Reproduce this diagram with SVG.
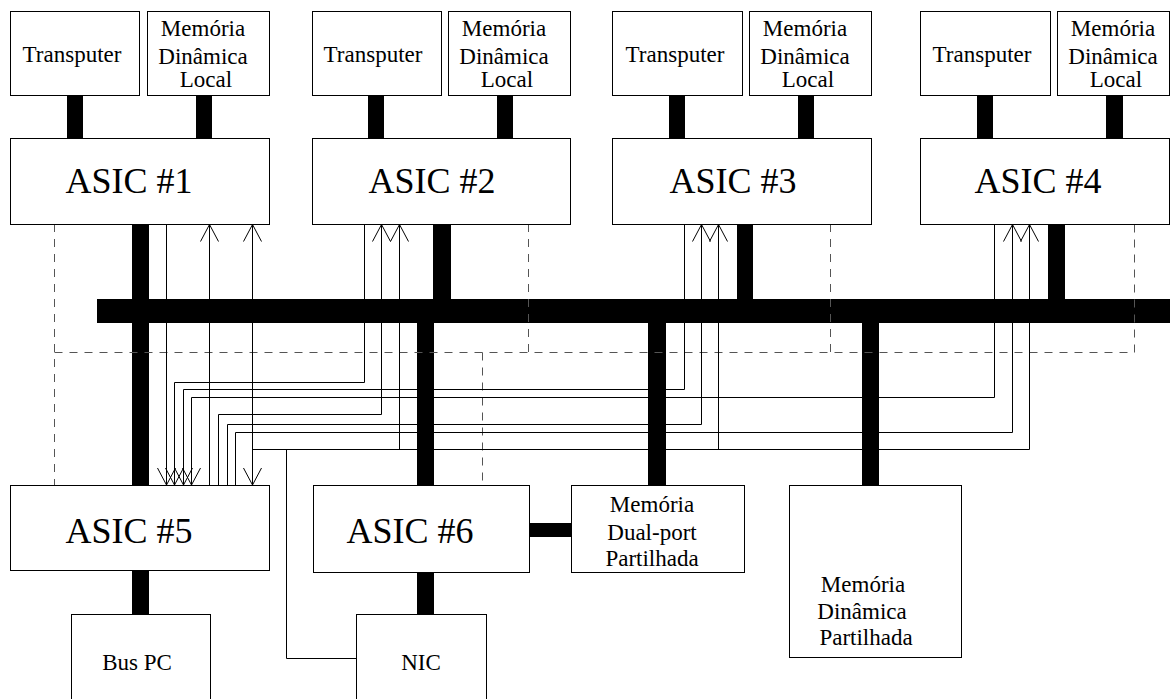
<svg xmlns="http://www.w3.org/2000/svg" width="1170" height="699" viewBox="0 0 1170 699">
  <style>
    .box { fill: #fff; stroke: #000; stroke-width: 1; }
    .bar { fill: #000; }
    .wire { fill: none; stroke: #000; stroke-width: 1; }
    .ctl { fill: none; stroke: #555; stroke-width: 1; stroke-dasharray: 8 7; }
    text { font-family: "Liberation Serif", "Times New Roman", serif; fill: #000; text-anchor: middle; }
    .sm { font-size: 23px; }
    .big { font-size: 36px; }
  </style>
  <defs>
    <marker id="vee" viewBox="0 0 20 20" refX="17" refY="9" markerWidth="20" markerHeight="20" markerUnits="userSpaceOnUse" orient="auto-start-reverse" overflow="visible">
      <path d="M0,0 L17,9 L0,18" fill="none" stroke="#000" stroke-width="1"/>
    </marker>
  </defs>
  <rect width="1170" height="699" fill="#fff"/>

  <!-- buses and links -->
  <g id="connectors">
    <!-- local links: transputer / local memory to each ASIC -->
    <rect class="bar" x="67" y="95" width="16" height="43"/>
    <rect class="bar" x="196" y="95" width="16" height="43"/>
    <rect class="bar" x="368" y="95" width="16" height="43"/>
    <rect class="bar" x="497" y="95" width="16" height="43"/>
    <rect class="bar" x="669" y="95" width="16" height="43"/>
    <rect class="bar" x="798" y="95" width="16" height="43"/>
    <rect class="bar" x="977" y="95" width="16" height="43"/>
    <rect class="bar" x="1106" y="95" width="17" height="43"/>
    <!-- shared bus -->
    <rect class="bar" x="97" y="299" width="1073" height="24"/>
    <rect class="bar" x="132" y="224" width="17" height="261"/>
    <rect class="bar" x="433" y="224" width="18" height="75"/>
    <rect class="bar" x="737" y="224" width="16" height="75"/>
    <rect class="bar" x="1048" y="224" width="17" height="75"/>
    <rect class="bar" x="417" y="323" width="17" height="162"/>
    <rect class="bar" x="648" y="323" width="18" height="162"/>
    <rect class="bar" x="862" y="323" width="17" height="162"/>
    <rect class="bar" x="417" y="572" width="17" height="42"/>
    <rect class="bar" x="529" y="523" width="42" height="14"/>
    <rect class="bar" x="132" y="571" width="17" height="43"/>

    <!-- control lines (dashed) -->
    <path class="ctl" d="M54.5,224 V485 M54.5,352.5 H1134.5 V224 M528.5,224 V352.5 M830.5,224 V352.5 M482.5,352.5 V485"/>

    <!-- ASIC #1 links -->
    <path class="wire" d="M166.5,224 V485" marker-end="url(#vee)"/>
    <path class="wire" d="M209.5,485 V224.5" marker-end="url(#vee)"/>
    <!-- ASIC #2 links -->
    <path class="wire" d="M364.5,224 V382.5 H174.5 V485" marker-end="url(#vee)"/>
    <path class="wire" d="M218.5,485 V414.5 H381.5 V224.5" marker-end="url(#vee)"/>
    <!-- ASIC #3 links -->
    <path class="wire" d="M684.5,224 V389.5 H183.5 V485" marker-end="url(#vee)"/>
    <path class="wire" d="M227.5,485 V424.5 H701.5 V224.5" marker-end="url(#vee)"/>
    <!-- ASIC #4 links -->
    <path class="wire" d="M994.5,224 V397.5 H191.5 V485" marker-end="url(#vee)"/>
    <path class="wire" d="M235.5,485 V432.5 H1012.5 V224.5" marker-end="url(#vee)"/>
    <!-- NIC broadcast -->
    <path class="wire" d="M356,658.5 H286.5 V449.5"/>
    <path class="wire" d="M252.5,449.5 H1029.5"/>
    <path class="wire" d="M252.5,224.5 V485" marker-start="url(#vee)" marker-end="url(#vee)"/>
    <path class="wire" d="M399.5,449.5 V224.5" marker-end="url(#vee)"/>
    <path class="wire" d="M718.5,449.5 V224.5" marker-end="url(#vee)"/>
    <path class="wire" d="M1029.5,449.5 V224.5" marker-end="url(#vee)"/>
  </g>

  <!-- node 1 -->
  <g id="transputer1"><rect class="box" x="10.5" y="11.5" width="129" height="84"/><text class="sm" x="72" y="62">Transputer</text></g>
  <g id="mem1"><rect class="box" x="147.5" y="11.5" width="122" height="84"/><text class="sm" x="203" y="36">Memória</text><text class="sm" x="203" y="64">Dinâmica</text><text class="sm" x="206" y="87">Local</text></g>
  <g id="asic1"><rect class="box" x="10.5" y="138.5" width="259" height="86"/><text class="big" x="129" y="193">ASIC #1</text></g>

  <!-- node 2 -->
  <g id="transputer2"><rect class="box" x="312.5" y="11.5" width="129" height="84"/><text class="sm" x="373" y="62">Transputer</text></g>
  <g id="mem2"><rect class="box" x="448.5" y="11.5" width="122" height="84"/><text class="sm" x="504" y="36">Memória</text><text class="sm" x="504" y="64">Dinâmica</text><text class="sm" x="507" y="87">Local</text></g>
  <g id="asic2"><rect class="box" x="312.5" y="138.5" width="258" height="86"/><text class="big" x="432" y="193">ASIC #2</text></g>

  <!-- node 3 -->
  <g id="transputer3"><rect class="box" x="612.5" y="11.5" width="130" height="84"/><text class="sm" x="675" y="62">Transputer</text></g>
  <g id="mem3"><rect class="box" x="749.5" y="11.5" width="122" height="84"/><text class="sm" x="805" y="36">Memória</text><text class="sm" x="805" y="64">Dinâmica</text><text class="sm" x="808" y="87">Local</text></g>
  <g id="asic3"><rect class="box" x="612.5" y="138.5" width="259" height="86"/><text class="big" x="733" y="193">ASIC #3</text></g>

  <!-- node 4 -->
  <g id="transputer4"><rect class="box" x="920.5" y="11.5" width="130" height="84"/><text class="sm" x="982" y="62">Transputer</text></g>
  <g id="mem4"><rect class="box" x="1057.5" y="11.5" width="112" height="84"/><text class="sm" x="1113" y="36">Memória</text><text class="sm" x="1113" y="64">Dinâmica</text><text class="sm" x="1116" y="87">Local</text></g>
  <g id="asic4"><rect class="box" x="920.5" y="138.5" width="249" height="86"/><text class="big" x="1038" y="193">ASIC #4</text></g>

  <!-- lower row -->
  <g id="asic5"><rect class="box" x="10.5" y="485.5" width="259" height="85"/><text class="big" x="129" y="543">ASIC #5</text></g>
  <g id="asic6"><rect class="box" x="313.5" y="485.5" width="216" height="87"/><text class="big" x="410" y="543">ASIC #6</text></g>
  <g id="dualport"><rect class="box" x="571.5" y="485.5" width="173" height="87"/><text class="sm" x="652" y="512">Memória</text><text class="sm" x="652" y="540">Dual-port</text><text class="sm" x="652" y="566">Partilhada</text></g>
  <g id="shared-dram"><rect class="box" x="789.5" y="485.5" width="172" height="172"/><text class="sm" x="863" y="592">Memória</text><text class="sm" x="862" y="619">Dinâmica</text><text class="sm" x="866" y="645">Partilhada</text></g>
  <g id="buspc"><rect class="box" x="71.5" y="614.5" width="139" height="95"/><text class="sm" x="137" y="670">Bus PC</text></g>
  <g id="nic"><rect class="box" x="356.5" y="614.5" width="130" height="95"/><text class="sm" x="421" y="670">NIC</text></g>
</svg>
